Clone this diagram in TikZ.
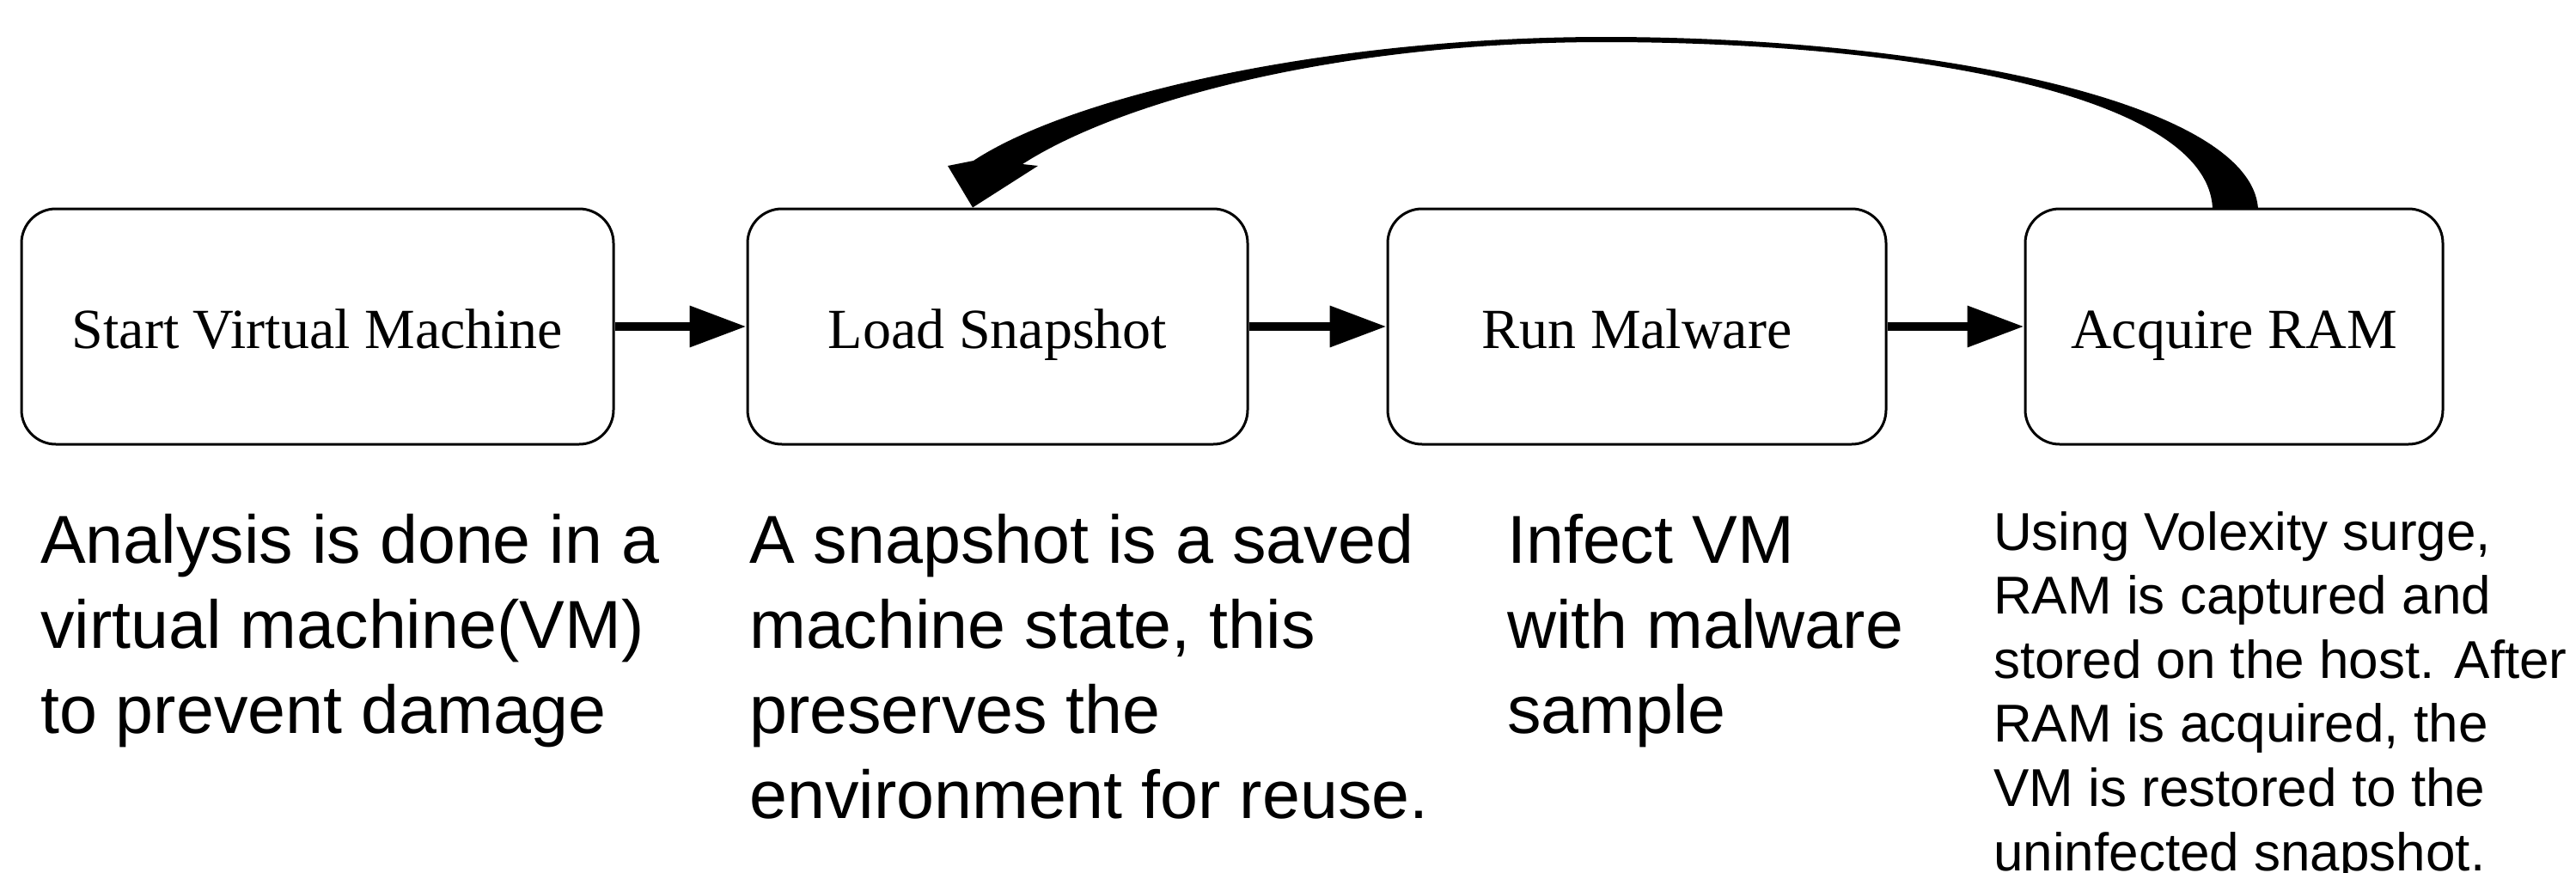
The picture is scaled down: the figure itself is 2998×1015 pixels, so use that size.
\documentclass[tikz,border=0pt]{standalone}
\usepackage{fontspec}
\setmainfont{Liberation Serif}
\newfontfamily\notefont{Liberation Sans}
\usetikzlibrary{arrows.meta,calc}
\begin{document}
\begin{tikzpicture}[x=1pt,y=-1pt,
  stepbox/.style={draw=black, line width=3pt, rounded corners=40pt,
    minimum height=274pt, inner sep=0pt, text height=50pt, text depth=0pt,
    font=\fontsize{66}{79}\selectfont},
  flow/.style={line width=10pt, -{Triangle[length=66pt,width=46pt]}},
  % the base anchor of a multi-line note sits on its last line
  note/.style={inner sep=0pt, anchor=base west, align=left,
    font=\notefont\fontsize{79}{99}\selectfont},
  smallnote/.style={note, font=\notefont\fontsize{62}{74.6}\selectfont}]

\useasboundingbox (0,0) rectangle (2998,1015);

% process steps
\node[stepbox, minimum width=689pt] (start) at (369.5,380) {Start Virtual Machine};
\node[stepbox, minimum width=582pt] (load)  at (1161,380)  {Load Snapshot};
\node[stepbox, minimum width=580pt] (run)   at (1905,380)  {Run Malware};
\node[stepbox, minimum width=486pt] (acq)   at (2600,380)  {Acquire RAM};

% forward flow
\draw[flow] (start) -- (load);
\draw[flow] (load) -- (run);
\draw[flow] (run) -- (acq);

% tapered loop arrow back from Acquire RAM to Load Snapshot
\coordinate (tail) at (acq.north);
\coordinate (tip) at ($(load.north)+(-29,0)$);
\fill ($(tail)+(28,1.5)$) .. controls (2620,120) and (2250,43) .. (1867,43)
  .. controls (1550,43) and (1250,110) .. (1133,187)
  -- (1103,193) -- (tip) -- (1208,193) -- (1190,191)
  .. controls (1300,120) and (1550,49) .. (1867,49)
  .. controls (2220,49) and (2570,110) .. ($(tail)+(-25,1.5)$) -- cycle;

% explanations under each step (positioned by the baseline of their last line)
\node[note] (n1) at (47,853) {Analysis is done in a\\virtual machine(VM)\\to prevent damage};
\node[note] (n2) at (872,952) {A snapshot is a saved\\machine state, this\\preserves the\\environment for reuse.};
\node[note] (n3) at (1754,853) {Infect VM\\with malware\\sample};
\node[smallnote] (n4) at (2320,1013) {Using Volexity surge,\\RAM is captured and\\stored on the host. After\\RAM is acquired, the\\VM is restored to the\\uninfected snapshot.};
\end{tikzpicture}
\end{document}
